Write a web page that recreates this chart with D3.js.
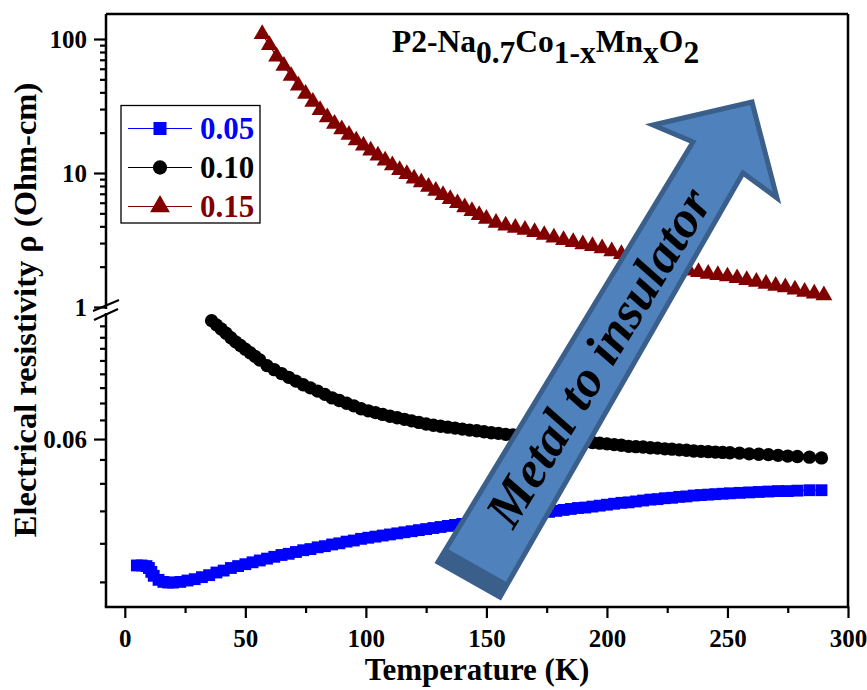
<!DOCTYPE html>
<html><head><meta charset="utf-8">
<script src="https://cdn.jsdelivr.net/npm/d3@7"></script>
<style>
body{margin:0;background:#fff}
svg text{font-family:"Liberation Serif","Times New Roman",serif;font-weight:bold}
</style>
</head><body><svg id="c" width="867" height="690"></svg>
<script>
// ---------- data ----------
const seriesNames = ["0.05", "0.10", "0.15"];
const seriesColors = ["#0000ff", "#000000", "#800000"];

const blueT = [5,7,9,10,11,12,14,16,18,20,23,26,29,32,35,38,41,44,47,50,53,56,59,62,65,68,71,74,77,80,83,86,89,92,95,98,101,104,107,110,113,116,119,122,125,128,131,134,137,140,143,146,149,152,155,158,161,164,167,170,173,176,179,182,185,188,191,194,197,200,203,206,209,212,215,218,221,224,227,230,233,236,239,242,245,248,251,255,259,263,267,271,275,279,284,289];
const blueRho = [.0323,.0323,.0322,.0319,.0313,.0307,.0301,.0298,.0297,.0297,.0298,.0300,.0302,.0305,.0308,.0312,.0315,.0319,.0322,.0325,.0328,.0331,.0334,.0337,.0340,.0342,.0345,.0348,.0350,.0353,.0355,.0358,.0360,.0363,.0365,.0368,.0370,.0372,.0374,.0376,.0378,.0380,.0382,.0384,.0386,.0388,.0390,.0392,.0394,.0396,.0398,.0400,.0402,.0404,.0406,.0408,.0410,.0412,.0414,.0416,.0418,.0420,.0422,.0424,.0426,.0428,.0429,.0431,.0433,.0435,.0437,.0439,.0440,.0442,.0444,.0446,.0447,.0449,.0450,.0452,.0453,.0455,.0456,.0457,.0458,.0459,.0460,.0461,.0462,.0463,.0464,.0465,.0465,.0466,.0467,.0467];

const blackT = [36,38,40,42,44,46,48,50,52,54,56,59,62,65,68,71,74,77,80,83,86,89,92,95,98,101,104,107,110,113,116,119,122,125,128,131,134,137,140,143,146,149,152,155,158,161,164,167,170,173,176,179,182,185,188,191,194,197,200,203,206,209,212,215,218,221,224,227,230,233,236,239,242,245,248,251,255,259,263,267,271,275,279,284,289];
const blackRho = [.1072,.1050,.1029,.1008,.0986,.0966,.0949,.0932,.0916,.0900,.0884,.0860,.0843,.0827,.0812,.0797,.0783,.0771,.0759,.0747,.0734,.0725,.0715,.0706,.0696,.0689,.0683,.0677,.0671,.0666,.0661,.0656,.0651,.0646,.0642,.0639,.0636,.0633,.0630,.0627,.0625,.0622,.0619,.0617,.0614,.0612,.0610,.0608,.0606,.0604,.0602,.0600,.0598,.0596,.0594,.0592,.0590,.0588,.0586,.0584,.0582,.0579,.0578,.0577,.0575,.0574,.0572,.0571,.0569,.0568,.0566,.0565,.0564,.0563,.0562,.0561,.0560,.0558,.0557,.0556,.0554,.0552,.0551,.0549,.0547];

const redT = [57,60,63,66,69,72,75,78,81,84,87,90,93,96,99,102,105,108,111,114,117,120,123,126,129,132,135,138,141,144,147,150,154,158,162,166,170,174,178,182,186,190,194,198,202,206,210,214,218,222,226,230,234,238,242,246,250,254,258,262,266,270,274,278,282,286,290];
const redRho = [109,90,74,63,53,45,39,34,29.5,26,23.3,21.2,19.3,17.5,16.0,14.7,13.5,12.4,11.4,10.5,9.8,9.1,8.5,7.9,7.35,6.85,6.4,5.95,5.55,5.2,4.85,4.55,4.25,4.05,3.9,3.77,3.62,3.45,3.3,3.16,3.05,2.94,2.85,2.74,2.6,2.48,2.38,2.28,2.18,2.08,2.0,1.93,1.87,1.82,1.77,1.73,1.69,1.64,1.59,1.54,1.49,1.44,1.40,1.35,1.30,1.26,1.22];

const xMajorTicks = [0,50,100,150,200,250,300];
const xMinorTicks = [25,75,125,175,225,275];
const upperMajorTicks = [1,10,100];
const upperMajorLabels = ["1","10","100"];
const upperMinorTicks = [2,3,4,5,6,7,8,9,20,30,40,50,60,70,80,90];
const lowerMajorTicks = [0.06];
const lowerMajorLabels = ["0.06"];
const lowerMinorTicks = [0.0298,0.036,0.0422,0.0483,0.0543,0.0659,0.0716,0.0772,0.0826,0.0882,0.0936,0.0988,0.1045];
const xDomain = [-7.8, 300];
const upperDomain = [1, 153.7];
const lowerDomain = [0.02635, 0.1102];

// ---------- layout ----------
const L = 106, R = 848, T = 14, B = 607;
const upperBottom = 307, lowerTop = 315;
const svg = d3.select("#c");

const x = d3.scaleLinear().domain(xDomain).range([L, R]);
const yU = d3.scaleLog().domain(upperDomain).range([upperBottom, T]);
const yL = d3.scaleLog().domain(lowerDomain).range([B, lowerTop]);

function styleAxis(g, fs) {
  g.select(".domain").remove();
  g.selectAll(".tick line").attr("stroke", "#000").attr("stroke-width", 2.2);
  g.selectAll("text").attr("font-size", fs).attr("fill", "#000");
}

// x axis
svg.append("g").attr("transform", `translate(0,${B})`)
  .call(d3.axisBottom(x).tickValues(xMajorTicks).tickSize(11).tickPadding(11).tickFormat(d3.format("d")))
  .call(g => styleAxis(g, 25));
svg.append("g").attr("transform", `translate(0,${B})`)
  .call(d3.axisBottom(x).tickValues(xMinorTicks).tickSize(6).tickFormat(""))
  .call(g => styleAxis(g, 25));

// y upper
svg.append("g").attr("transform", `translate(${L},0)`)
  .call(d3.axisLeft(yU).tickValues(upperMajorTicks).tickSize(12).tickPadding(7)
    .tickFormat((d, i) => upperMajorLabels[i]))
  .call(g => styleAxis(g, 25));
svg.append("g").attr("transform", `translate(${L},0)`)
  .call(d3.axisLeft(yU).tickValues(upperMinorTicks).tickSize(6).tickFormat(""))
  .call(g => styleAxis(g, 25));
// y lower
svg.append("g").attr("transform", `translate(${L},0)`)
  .call(d3.axisLeft(yL).tickValues(lowerMajorTicks).tickSize(12).tickPadding(7)
    .tickFormat((d, i) => lowerMajorLabels[i]))
  .call(g => styleAxis(g, 25));
svg.append("g").attr("transform", `translate(${L},0)`)
  .call(d3.axisLeft(yL).tickValues(lowerMinorTicks).tickSize(6).tickFormat(""))
  .call(g => styleAxis(g, 25));

// frame
const frame = svg.append("g").attr("stroke", "#000").attr("stroke-width", 2.5).attr("fill", "none");
frame.append("line").attr("x1", L).attr("x2", R).attr("y1", T).attr("y2", T);
frame.append("line").attr("x1", R).attr("x2", R).attr("y1", T).attr("y2", B);
frame.append("line").attr("x1", L - 1.2).attr("x2", R + 1.2).attr("y1", B).attr("y2", B);
frame.append("line").attr("x1", L).attr("x2", L).attr("y1", T).attr("y2", upperBottom + 2);
frame.append("line").attr("x1", L).attr("x2", L).attr("y1", lowerTop - 2).attr("y2", B);
// break marks
frame.append("line").attr("x1", 93).attr("y1", 311).attr("x2", 119).attr("y2", 300).attr("stroke-width", 2);
frame.append("line").attr("x1", 94).attr("y1", 320).attr("x2", 118).attr("y2", 309).attr("stroke-width", 2);

// ---------- series ----------
const plot = svg.append("g");
function drawSeries(Ts, vals, yScale, color, symbol, size) {
  const pts = Ts.map((t, i) => [x(t), yScale(vals[i])]);
  plot.append("path").attr("d", d3.line()(pts)).attr("fill", "none")
    .attr("stroke", color).attr("stroke-width", 1.2);
  plot.append("g").selectAll("path").data(pts).join("path")
    .attr("transform", d => `translate(${d[0]},${d[1]})`)
    .attr("d", d3.symbol(symbol, size)).attr("fill", color);
}
drawSeries(redT, redRho, yU, seriesColors[2], d3.symbolTriangle, 125);
drawSeries(blackT, blackRho, yL, seriesColors[1], d3.symbolCircle, 140);
drawSeries(blueT, blueRho, yL, seriesColors[0], d3.symbolSquare, 140);

// ---------- arrow annotation ----------
const arrowPts = [[438,562],[693,142],[653,125],[752,102],[777,198],[743,173],[500,597]];
const ag = svg.append("g");
ag.append("polygon").attr("points", arrowPts.map(p => p.join(",")).join(" "))
  .attr("fill", "#4f81bd").attr("stroke", "#3a5f8b").attr("stroke-width", 5).attr("stroke-linejoin", "miter");
ag.append("polygon").attr("points", "438,562 500,597 508,583 446,548")
  .attr("fill", "#3a5f8b");
ag.append("text").attr("transform", "translate(600,358) rotate(-58.7)")
  .attr("text-anchor", "middle").attr("dy", "0.3em")
  .attr("font-size", 52).attr("font-style", "italic").attr("fill", "#000")
  .attr("textLength", 385).attr("lengthAdjust", "spacingAndGlyphs")
  .text("Metal to insulator");

// ---------- legend ----------
const lg = svg.append("g");
lg.append("rect").attr("x", 121).attr("y", 105.5).attr("width", 139).attr("height", 117.5)
  .attr("fill", "#fff").attr("stroke", "#000").attr("stroke-width", 1.3);
const legSym = [d3.symbolSquare, d3.symbolCircle, d3.symbolTriangle];
const legSize = [170, 160, 170];
seriesNames.forEach((name, i) => {
  const yy = 128.5 + i * 39;
  lg.append("line").attr("x1", 128).attr("x2", 192).attr("y1", yy).attr("y2", yy)
    .attr("stroke", seriesColors[i]).attr("stroke-width", 1.2);
  lg.append("path").attr("transform", `translate(160,${yy})`)
    .attr("d", d3.symbol(legSym[i], legSize[i])).attr("fill", seriesColors[i]);
  lg.append("text").attr("x", 200).attr("y", yy + 10).attr("font-size", 31)
    .attr("fill", seriesColors[i]).text(name);
});

// ---------- titles ----------
const tt = svg.append("text").attr("x", 392).attr("y", 52).attr("font-size", 31.5);
const parts = [["P2-Na",0],["0.7",1],["Co",0],["1-x",1],["Mn",0],["x",1],["O",0],["2",1]];
let cur = 0;
parts.forEach(([s, sub]) => {
  const shift = (sub ? 11 : 0) - cur;
  tt.append("tspan").attr("dy", shift).text(s);
  cur = sub ? 11 : 0;
});

svg.append("text").attr("x", (L + R) / 2).attr("y", 680).attr("text-anchor", "middle")
  .attr("font-size", 31).text("Temperature (K)");
svg.append("text").attr("transform", "translate(36,310) rotate(-90)").attr("text-anchor", "middle")
  .attr("font-size", 32.5).text("Electrical resistivity ρ (Ohm-cm)");
</script></body></html>
